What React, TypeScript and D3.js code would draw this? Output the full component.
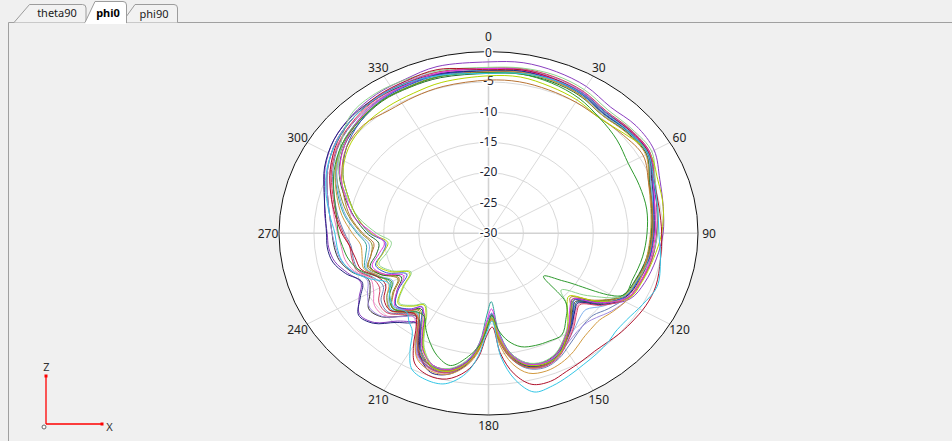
import React from "react";
import * as d3 from "d3";

const W = 952;
const H = 441;
const CX = 488.5;
const CY = 233.3;
const RX = 209.5;
const RY = 181.7;

// angles (deg, clockwise from top) at which each trace was read
const ANGLES = [
  0, 10, 20, 30, 40, 50, 60, 70, 80, 90,
  100, 110, 118, 126, 132, 136, 142, 148, 154, 160,
  166, 171, 175, 178, 181, 184, 188, 194, 200, 206,
  210, 214, 218, 222, 228, 234, 240, 246, 252, 258,
  264, 270, 278, 286, 295, 305, 315, 325, 335, 345,
];

const RING_TICKS = [0, -5, -10, -15, -20, -25, -30];
const ANGLE_TICKS = [0, 30, 60, 90, 120, 150, 180, 210, 240, 270, 300, 330];
const TAB_LABELS = ["theta90", "phi0", "phi90"];

// traces (dB)
const purpleTrace = [-1.7,-1.4,-1.6,-2.0,-2.8,-2.4,-2.6,-3.9,-4.6,-5.0, -5.6,-6.2,-7.0,-10.0,-13.0,-12.2,-10.8,-9.4,-7.8,-7.2, -8.0,-10.0,-13.0,-16.5,-15.0,-11.5,-8.8,-6.8,-6.6,-7.5, -10.0,-12.2,-11.5,-10.5,-8.0,-7.2,-8.6,-10.0,-8.8,-7.5, -7.0,-6.9,-6.3,-5.6,-4.2,-3.0,-2.4,-2.0,-1.9,-1.5];
const redTrace = [-3.0,-2.6,-2.8,-3.3,-4.0,-3.6,-3.5,-4.8,-5.2,-5.2, -5.0,-4.5,-4.5,-4.8,-5.0,-5.2,-5.3,-5.0,-4.6,-4.0, -4.3,-6.5,-10.0,-14.5,-13.0,-9.5,-7.0,-5.2,-5.0,-6.0, -8.5,-11.5,-13.0,-12.5,-11.0,-11.5,-13.0,-12.5,-10.8,-10.5, -10.0,-9.0,-7.8,-6.5,-5.0,-3.6,-2.8,-2.3,-2.2,-2.0];
const greenTrace = [-3.5,-3.3,-3.6,-4.2,-5.2,-6.0,-6.9,-7.0,-7.0,-7.3, -7.6,-8.0,-8.2,-16.5,-19.4,-14.0,-12.0,-10.2,-10.2,-10.3, -10.7,-12.0,-14.0,-16.5,-14.0,-11.5,-9.5,-7.5,-8.5,-10.5, -12.0,-13.5,-13.5,-12.5,-11.5,-12.5,-14.0,-12.5,-10.5,-9.5, -9.0,-8.5,-8.0,-7.0,-5.6,-4.4,-3.8,-3.3,-3.3,-3.2];
const blueTrace = [-3.2,-2.9,-3.0,-3.4,-4.2,-3.8,-3.6,-5.0,-6.0,-6.4, -6.6,-7.2,-7.8,-10.5,-13.5,-12.5,-10.8,-9.2,-7.6,-7.0, -7.8,-9.8,-13.0,-16.8,-15.0,-11.5,-8.6,-6.5,-6.4,-8.0, -10.5,-12.8,-14.6,-13.2,-12.2,-14.0,-16.5,-14.0,-13.0,-14.5, -15.2,-13.0,-11.0,-9.2,-7.0,-5.2,-4.0,-3.2,-3.0,-2.9];
const cyanTrace = [-3.6,-3.2,-3.0,-3.3,-4.0,-3.8,-3.6,-4.8,-5.4,-5.6, -5.0,-4.3,-5.0,-5.6,-5.6,-5.2,-4.8,-4.4,-3.8,-3.2, -3.0,-5.5,-9.5,-15.5,-13.5,-9.8,-6.6,-4.4,-4.2,-5.0, -7.5,-10.5,-11.5,-12.5,-11.8,-12.5,-13.5,-11.5,-9.5,-8.5, -8.2,-8.0,-7.0,-5.8,-4.5,-3.5,-2.8,-2.5,-2.6,-3.0];
const magentaTrace = [-2.8,-2.6,-2.9,-3.2,-4.0,-3.6,-3.4,-4.9,-5.8,-6.1, -6.4,-6.8,-7.4,-10.5,-13.8,-13.2,-11.2,-9.4,-7.8,-7.2, -7.8,-9.8,-13.5,-17.5,-15.5,-11.8,-8.8,-6.8,-6.8,-8.5, -11.0,-13.5,-14.5,-13.0,-12.0,-13.8,-16.0,-13.5,-12.5,-14.0, -15.0,-13.5,-10.5,-8.8,-6.5,-4.8,-3.6,-3.0,-2.8,-2.6];
const yellowGreenTrace = [-4.0,-3.8,-4.2,-4.6,-5.2,-4.5,-3.4,-4.2,-4.6,-5.2, -6.0,-6.6,-7.2,-11.0,-14.5,-13.8,-11.5,-9.2,-7.4,-7.0, -7.6,-9.5,-12.8,-16.0,-14.8,-11.2,-8.4,-6.5,-6.5,-8.8, -11.5,-14.0,-15.0,-13.8,-12.6,-14.8,-17.0,-14.5,-13.2,-14.6, -15.5,-13.2,-11.0,-9.2,-7.0,-5.5,-4.8,-4.6,-4.5,-4.2];
const brownTrace = [-4.7,-4.6,-4.8,-5.0,-5.2,-4.8,-4.4,-5.6,-6.2,-6.5, -6.8,-7.4,-8.0,-11.2,-14.2,-13.0,-11.0,-9.0,-7.4,-6.8, -7.2,-9.0,-12.0,-15.8,-14.2,-11.0,-8.4,-6.6,-6.4,-7.8, -9.5,-12.0,-13.8,-12.8,-11.5,-13.2,-15.2,-13.5,-12.0,-12.8, -13.5,-12.0,-10.0,-8.5,-6.8,-5.2,-4.7,-5.2,-5.1,-4.9];
const tealTrace = [-3.0,-2.8,-3.0,-3.4,-4.3,-3.9,-3.7,-5.4,-6.2,-6.6, -6.8,-7.3,-7.8,-10.2,-13.0,-12.4,-10.8,-9.2,-7.8,-7.2, -7.8,-10.0,-14.0,-18.7,-16.5,-12.0,-8.8,-6.7,-6.6,-7.6, -9.8,-12.4,-13.5,-12.5,-11.2,-12.0,-13.8,-12.6,-11.4,-12.0, -12.4,-11.2,-9.2,-7.6,-5.8,-4.4,-3.6,-3.0,-2.9,-2.8];
const lightGreenTrace = [-2.6,-2.3,-2.2,-2.6,-3.4,-3.2,-3.0,-4.6,-5.4,-5.8, -6.4,-7.4,-8.0,-12.5,-16.0,-14.0,-11.5,-9.6,-8.0,-7.4, -8.0,-10.0,-13.0,-16.2,-15.0,-11.8,-9.0,-7.0,-6.8,-9.0, -11.8,-14.2,-15.2,-14.0,-12.8,-15.0,-17.2,-14.8,-13.5,-15.2, -16.0,-14.0,-11.2,-9.0,-6.4,-4.2,-2.2,-1.8,-2.0,-2.2];
const navyTrace = [-3.2,-2.8,-2.9,-3.2,-3.9,-3.5,-3.4,-4.9,-5.5,-5.9, -6.2,-6.8,-7.4,-10.0,-12.8,-12.2,-10.6,-9.0,-7.4,-6.8, -7.4,-9.4,-12.8,-16.4,-14.6,-11.0,-8.2,-6.0,-5.6,-7.6, -10.3,-12.0,-11.2,-10.2,-7.8,-7.0,-8.8,-10.2,-8.5,-7.2, -6.8,-6.8,-6.4,-5.5,-4.1,-3.0,-2.5,-2.4,-2.5,-2.7];
const oliveTrace = [-3.4,-3.1,-3.2,-3.6,-4.4,-4.0,-3.8,-5.4,-6.2,-6.6, -6.9,-7.5,-8.0,-10.8,-13.6,-12.8,-11.0,-9.3,-7.7,-7.0, -7.6,-9.6,-12.6,-16.2,-14.6,-11.2,-8.6,-6.6,-6.5,-8.2, -10.6,-13.0,-14.0,-12.8,-11.6,-13.0,-15.0,-13.2,-11.8,-12.8, -13.2,-11.8,-9.8,-8.0,-6.0,-4.6,-3.8,-3.3,-3.2,-3.1];
const pinkTrace = [-2.9,-2.7,-2.8,-3.1,-3.9,-3.6,-3.5,-5.0,-5.8,-6.2, -6.5,-7.0,-7.6,-10.0,-12.6,-12.0,-10.4,-8.8,-7.2,-6.6, -7.2,-9.2,-12.4,-16.0,-14.2,-10.8,-8.2,-6.2,-6.0,-7.0, -9.0,-11.5,-12.5,-11.5,-9.8,-9.8,-11.0,-11.5,-9.8,-9.0, -8.8,-8.4,-7.6,-6.6,-5.0,-3.8,-3.2,-2.8,-2.7,-2.6];
const tanTrace = [-3.3,-3.0,-3.2,-3.7,-4.6,-4.2,-4.0,-5.6,-6.4,-6.8, -7.0,-7.0,-7.2,-8.0,-8.6,-8.5,-8.0,-7.0,-6.2,-5.8, -6.2,-8.2,-11.5,-15.6,-14.0,-10.6,-8.0,-6.0,-5.8,-6.8, -9.0,-12.0,-13.2,-12.4,-11.0,-12.0,-13.5,-12.8,-11.2,-11.5, -11.6,-10.5,-8.8,-7.4,-5.8,-4.4,-3.7,-3.3,-3.3,-3.2];
const slateTrace = [-3.1,-2.8,-3.0,-3.4,-4.2,-3.9,-3.8,-5.3,-6.1,-6.5, -6.8,-7.2,-7.6,-8.8,-9.8,-9.8,-9.2,-8.2,-7.0,-6.4, -7.0,-9.0,-12.2,-16.0,-14.4,-11.0,-8.4,-6.4,-6.2,-7.4, -9.6,-12.2,-13.2,-12.2,-10.6,-11.0,-12.6,-12.0,-10.4,-10.2, -10.2,-9.4,-8.2,-7.0,-5.4,-4.0,-3.3,-2.9,-2.8,-2.8];
const darkGreenTrace = [-3.6,-3.3,-3.4,-3.8,-4.6,-4.1,-3.9,-5.5,-6.3,-6.7, -7.0,-7.6,-8.2,-11.0,-13.8,-13.0,-11.2,-9.5,-7.9,-7.3, -7.9,-9.8,-12.9,-16.6,-14.9,-11.4,-8.7,-6.9,-6.8,-8.6, -11.2,-13.6,-14.2,-13.0,-12.2,-13.8,-15.6,-13.2,-12.2,-13.6, -14.2,-12.6,-10.6,-8.6,-6.4,-4.8,-4.0,-3.4,-3.4,-3.4];
const lavenderTrace = [-2.9,-2.5,-2.6,-3.0,-3.8,-3.5,-3.3,-4.6,-5.4,-5.8, -6.2,-6.8,-7.2,-8.2,-9.2,-9.6,-9.4,-8.6,-7.6,-7.2, -7.8,-9.8,-13.0,-16.6,-14.8,-11.2,-8.5,-6.5,-6.3,-7.2, -9.2,-11.8,-12.6,-11.5,-9.5,-9.0,-10.0,-11.0,-9.6,-8.4, -8.0,-7.6,-7.0,-6.0,-4.6,-3.4,-2.8,-2.4,-2.3,-2.4];
const grayTrace = [-3.4,-3.0,-3.1,-3.5,-4.3,-3.8,-3.6,-5.1,-5.9,-6.3, -6.6,-7.1,-7.7,-10.4,-13.2,-12.6,-10.8,-9.1,-7.5,-6.9, -7.5,-9.5,-12.6,-16.3,-14.7,-11.1,-8.4,-6.4,-6.2,-7.4, -10.0,-12.4,-12.8,-11.6,-9.4,-8.8,-10.4,-11.2,-9.4,-8.2, -7.8,-7.6,-7.0,-6.0,-4.6,-3.4,-2.8,-2.6,-2.7,-2.9];
const lightBlueTrace = [-3.1,-2.9,-3.1,-3.5,-4.4,-4.0,-3.8,-5.3,-6.0,-6.4, -6.7,-7.2,-7.8,-9.6,-11.2,-11.0,-10.0,-8.8,-7.3,-6.7, -7.3,-9.3,-12.5,-16.2,-14.5,-11.0,-8.3,-6.3,-6.1,-7.2, -9.4,-12.0,-13.4,-12.4,-11.2,-12.4,-14.2,-12.8,-11.6,-12.4, -12.8,-11.4,-9.4,-7.8,-6.0,-4.5,-3.7,-3.1,-3.0,-3.0];
const crimsonTrace = [-2.7,-2.4,-2.5,-2.9,-3.7,-3.4,-3.3,-4.7,-5.5,-5.9, -6.2,-6.7,-7.3,-9.8,-12.4,-11.8,-10.2,-8.7,-7.2,-6.6, -7.2,-9.2,-12.5,-16.0,-14.4,-10.9,-8.3,-6.3,-6.1,-7.4, -9.8,-12.2,-13.0,-12.0,-10.4,-10.6,-12.0,-11.8,-10.2,-10.0, -10.0,-9.2,-8.0,-6.8,-5.2,-3.9,-3.1,-2.6,-2.5,-2.4];

const SERIES = [
  { color: "#8a3fc0", values: purpleTrace },
  { color: "#2fa39a", values: tealTrace },
  { color: "#6a7fb5", values: slateTrace },
  { color: "#8f8f20", values: oliveTrace },
  { color: "#ef7fbf", values: pinkTrace },
  { color: "#333333", values: grayTrace },
  { color: "#7fb1ee", values: lightBlueTrace },
  { color: "#1f6b2a", values: darkGreenTrace },
  { color: "#3355cc", values: blueTrace },
  { color: "#25257f", values: navyTrace },
  { color: "#a18be0", values: lavenderTrace },
  { color: "#d24262", values: crimsonTrace },
  { color: "#d29a40", values: tanTrace },
  { color: "#b87333", values: brownTrace },
  { color: "#8fd48f", values: lightGreenTrace },
  { color: "#b5d400", values: yellowGreenTrace },
  { color: "#e033e0", values: magentaTrace },
  { color: "#2e9a2e", values: greenTrace },
  { color: "#b0102a", values: redTrace },
  { color: "#33c6e6", values: cyanTrace },
];

const rScale = d3.scaleLinear().domain([-30, 0]).range([0, 1]).clamp(true);

function toXY(thetaDeg: number, frac: number): [number, number] {
  const a = (thetaDeg * Math.PI) / 180;
  return [CX + RX * frac * Math.sin(a), CY - RY * frac * Math.cos(a)];
}

const lineGen = d3
  .line<[number, number]>()
  .x((d) => d[0])
  .y((d) => d[1])
  .curve(d3.curveCatmullRomClosed.alpha(0.5));

const FONT = "'Noto Sans', 'DejaVu Sans', sans-serif";

export default function App() {
  const traces = SERIES.map((s) =>
    lineGen(ANGLES.map((a, i) => toXY(a, rScale(s.values[i]))))
  );

  const tabBorder = "#9c9c9c";

  return (
    <svg
      width={W}
      height={H}
      viewBox={`0 0 ${W} ${H}`}
      style={{ position: "absolute", left: 0, top: 0, display: "block" }}
    >
      <rect x={0} y={0} width={W} height={H} fill="#f0f0f0" />

      {/* content frame */}
      <path d={`M8.5,${H} L8.5,22.5 L${W},22.5`} fill="none" stroke="#a0a0a0" strokeWidth={1} />

      {/* tabs */}
      <path
        d="M122,22.5 L135,4.5 L174,4.5 Q177.5,4.5 177.5,8 L177.5,22.5"
        fill="#f2f2f2"
        stroke={tabBorder}
        strokeWidth={1}
      />
      <path
        d="M14,22.5 L29.5,4.5 L82.5,4.5 Q86,4.5 86,8 L86,22.5"
        fill="#f2f2f2"
        stroke={tabBorder}
        strokeWidth={1}
      />
      <path
        d="M85,23 L85,22.5 L95,1.5 L123,1.5 Q126.5,1.5 126.5,5 L126.5,23"
        fill="#ffffff"
        stroke={tabBorder}
        strokeWidth={1}
      />
      <rect x={85.5} y={22} width={40.5} height={2} fill="#ffffff" />
      <text x={57} y={17} fontFamily={FONT} fontSize={11} fill="#1a1a1a" textAnchor="middle">
        {TAB_LABELS[0]}
      </text>
      <text x={108} y={17} fontFamily={FONT} fontSize={11} fontWeight="bold" fill="#000" textAnchor="middle">
        {TAB_LABELS[1]}
      </text>
      <text x={154} y={17.5} fontFamily={FONT} fontSize={11} fill="#1a1a1a" textAnchor="middle">
        {TAB_LABELS[2]}
      </text>

      {/* plot area */}
      <ellipse cx={CX} cy={CY} rx={RX} ry={RY} fill="#ffffff" />

      {RING_TICKS.filter((t) => t !== 0 && t !== -30).map((t) => (
        <ellipse
          key={t}
          cx={CX}
          cy={CY}
          rx={RX * rScale(t)}
          ry={RY * rScale(t)}
          fill="none"
          stroke="#d9d9d9"
          strokeWidth={1}
        />
      ))}

      {ANGLE_TICKS.map((a) => {
        const [x, y] = toXY(a, 1);
        const major = a % 90 === 0;
        return (
          <line
            key={a}
            x1={CX}
            y1={CY}
            x2={x}
            y2={y}
            stroke={major ? "#d2d2d2" : "#dadada"}
            strokeWidth={major ? 1.6 : 1}
          />
        );
      })}

      <ellipse cx={CX} cy={CY} rx={RX} ry={RY} fill="none" stroke="#111" strokeWidth={1} />

      {RING_TICKS.map((t) => {
        const [, y] = toXY(0, rScale(t));
        return (
          <text
            key={t}
            x={CX}
            y={t === 0 ? y + 0.5 : y - 1}
            fontFamily={FONT}
            fontSize={12}
            fill="#1b2433"
            textAnchor="middle"
            dominantBaseline="central"
            stroke="#ffffff"
            strokeWidth={3}
            paintOrder="stroke"
          >
            {t}
          </text>
        );
      })}

      {/* traces */}
      <g fill="none" strokeWidth={1} strokeLinejoin="round">
        {traces.map((d, i) => (
          <path key={i} d={d || ""} stroke={SERIES[i].color} />
        ))}
      </g>

      {/* angle labels */}
      {ANGLE_TICKS.map((a) => {
        const rad = (a * Math.PI) / 180;
        const x = CX + (RX + 11) * Math.sin(rad);
        const y = CY - (RY + (a === 0 ? 15 : 10)) * Math.cos(rad);
        return (
          <text
            key={a}
            x={x}
            y={y}
            fontFamily={FONT}
            fontSize={12}
            fill="#222"
            textAnchor="middle"
            dominantBaseline="central"
          >
            {a}
          </text>
        );
      })}

      {/* axis triad */}
      <line x1={46} y1={376} x2={46} y2={424} stroke="#ff0000" strokeWidth={1.3} />
      <line x1={46} y1={424} x2={102} y2={424} stroke="#ff0000" strokeWidth={1.3} />
      <rect x={44.5} y={374.5} width={3} height={3} fill="#ff0000" />
      <rect x={100.5} y={422.5} width={3} height={3} fill="#ff0000" />
      <circle cx={44} cy={427} r={2} fill="#fff" stroke="#666" strokeWidth={1} />
      <text x={46.5} y={366} fontFamily={FONT} fontSize={11} fill="#333" textAnchor="middle" dominantBaseline="central">
        Z
      </text>
      <text x={109.5} y={426} fontFamily={FONT} fontSize={11} fill="#333" textAnchor="middle" dominantBaseline="central">
        X
      </text>
    </svg>
  );
}
